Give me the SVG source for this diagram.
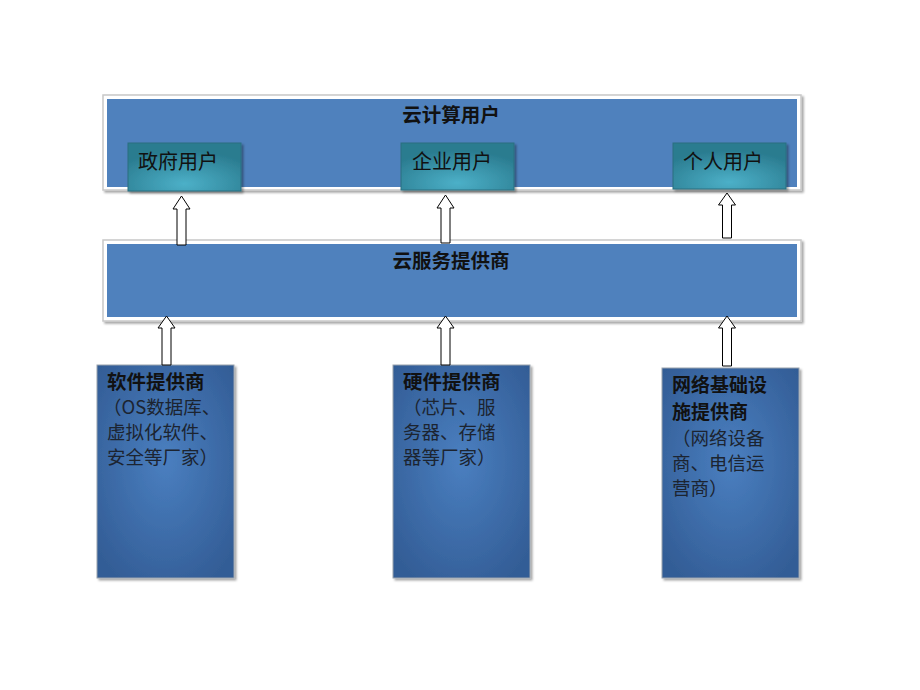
<svg xmlns="http://www.w3.org/2000/svg" width="920" height="690" viewBox="0 0 920 690">
<defs>
<radialGradient id="teal" cx="50%" cy="85%" r="70%">
<stop offset="0" stop-color="#4cb0c8"/>
<stop offset="1" stop-color="#2a7b8f"/>
</radialGradient>
<radialGradient id="navy" cx="50%" cy="45%" r="65%">
<stop offset="0" stop-color="#4a7fc0"/>
<stop offset="1" stop-color="#335d96"/>
</radialGradient>
<filter id="sh" x="-10%" y="-10%" width="130%" height="130%">
<feDropShadow dx="2" dy="2" stdDeviation="1.2" flood-color="#000" flood-opacity="0.35"/>
</filter>
</defs>
<style>
.frame{fill:#ffffff;stroke:#c8c8c8;stroke-width:1.5}
.blue{fill:#4f81bd}
.tealbox{fill:url(#teal);stroke:#2a6f80;stroke-width:1}
.navybox{fill:url(#navy);stroke:#9aa3ad;stroke-width:1}
.arrow{fill:#ffffff;stroke:#000000;stroke-width:1}
text{font-family:"Noto Sans CJK SC","Liberation Sans",sans-serif;fill:#111}
.title{font-size:19.5px;font-weight:bold}
.title2{font-size:19px;font-weight:bold}
.lbl{font-size:20px}
.body{font-size:18.5px;fill:#1c2430}
</style>
<rect width="920" height="690" fill="#ffffff"/>
<g id="users">
<rect class="frame" x="103" y="95" width="698" height="95" filter="url(#sh)"/>
<rect class="blue" x="107" y="99" width="690" height="88"/>
<text class="title" x="451" y="122" text-anchor="middle">云计算用户</text>
</g>
<g id="gov">
<rect class="tealbox" x="128" y="143" width="113" height="48" filter="url(#sh)"/>
<text class="lbl" x="138" y="169">政府用户</text>
</g>
<g id="ent">
<rect class="tealbox" x="401" y="143" width="113" height="47" filter="url(#sh)"/>
<text class="lbl" x="412" y="169">企业用户</text>
</g>
<g id="personal">
<rect class="tealbox" x="673" y="143" width="113" height="46" filter="url(#sh)"/>
<text class="lbl" x="683" y="169">个人用户</text>
</g>
<g id="csp">
<rect class="frame" x="103" y="240" width="698" height="81" filter="url(#sh)"/>
<rect class="blue" x="107" y="244" width="690" height="73"/>
<text class="title" x="451" y="268" text-anchor="middle">云服务提供商</text>
</g>
<g id="software">
<rect class="navybox" x="97" y="365" width="137" height="213" filter="url(#sh)"/>
<text class="title" x="107" y="389">软件提供商</text>
<text class="body" x="103" y="414">（OS数据库、</text>
<text class="body" x="107" y="439">虚拟化软件、</text>
<text class="body" x="107" y="464">安全等厂家）</text>
</g>
<g id="hardware">
<rect class="navybox" x="393" y="365" width="137" height="213" filter="url(#sh)"/>
<text class="title" x="403" y="389">硬件提供商</text>
<text class="body" x="403" y="414">（芯片、服</text>
<text class="body" x="403" y="439">务器、存储</text>
<text class="body" x="403" y="464">器等厂家）</text>
</g>
<g id="network">
<rect class="navybox" x="662" y="368" width="137" height="210" filter="url(#sh)"/>
<text class="title2" x="672" y="392">网络基础设</text>
<text class="title2" x="672" y="419">施提供商</text>
<text class="body" x="672" y="445">（网络设备</text>
<text class="body" x="672" y="470">商、电信运</text>
<text class="body" x="672" y="495">营商）</text>
</g>
<g id="connectors">
<polygon class="arrow" points="181.5,196 173,209 177,209 177,245 186,245 186,209 190,209"/>
<polygon class="arrow" points="445.5,195 437,208 441,208 441,243 450,243 450,208 454,208"/>
<polygon class="arrow" points="727,193 718.5,205 722.5,205 722.5,238 731.5,238 731.5,205 735.5,205"/>
<polygon class="arrow" points="166.5,316 158,328 162,328 162,365 171,365 171,328 175,328"/>
<polygon class="arrow" points="445.5,316 437,328 441,328 441,365 450,365 450,328 454,328"/>
<polygon class="arrow" points="727,316 718.5,328 722.5,328 722.5,366 731.5,366 731.5,328 735.5,328"/>
</g>
</svg>
